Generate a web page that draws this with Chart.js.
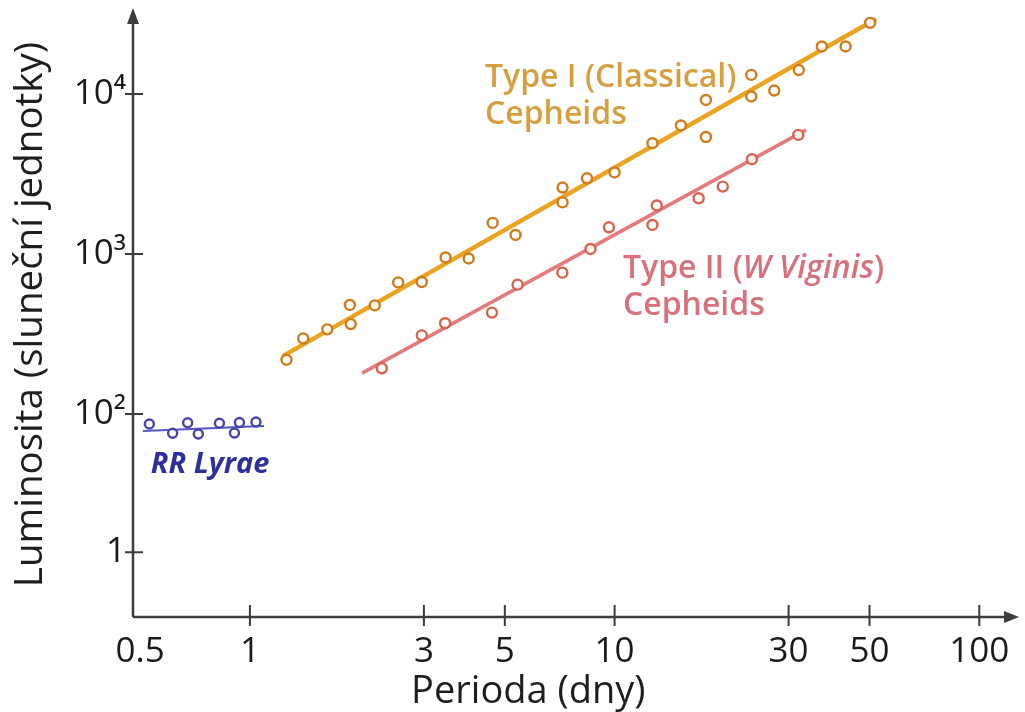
<!DOCTYPE html>
<html>
<head>
<meta charset="utf-8">
<script src="https://cdn.jsdelivr.net/npm/chart.js@4/dist/chart.umd.min.js"></script>
<style>
  html, body { margin: 0; padding: 0; background: #fff; }
</style>
</head>
<body>
<canvas id="chart" width="1025" height="712"></canvas>
<script>
// values: period in days, luminosity in solar units
const classicalPeriod = [1.26, 1.40, 1.63, 1.88, 1.89, 2.20, 2.55, 2.96, 3.44, 3.98, 4.63, 5.35,
  7.2, 7.2, 8.4, 10.0, 12.7, 15.2, 17.8, 17.8, 23.7, 23.7, 27.4, 32.0, 37.0, 43.0, 50.2];
const classicalLum = [218, 297, 338, 480, 365, 477, 664, 668, 951, 937, 1563, 1314,
  2600, 2100, 2970, 3230, 4920, 6350, 5380, 9170, 13150, 9640, 10500, 14100, 19800, 19800, 27800];
const classicalFitPeriod = [1.23, 52.1];
const classicalFitLum = [230, 29400];

const wvirPeriod = [2.30, 2.96, 3.43, 4.61, 5.42, 7.19, 8.59, 9.65, 12.7, 13.05, 17.0, 19.8, 23.8, 31.9];
const wvirLum = [193, 310, 369, 430, 643, 764, 1075, 1468, 1518, 2010, 2229, 2636, 3908, 5546];
const wvirFitPeriod = [2.03, 33.5];
const wvirFitLum = [180, 5960];

const rrPeriod = [0.530, 0.614, 0.675, 0.722, 0.825, 0.907, 0.936, 1.039];
const rrLum = [86.6, 75.8, 88.2, 75.0, 87.5, 76.1, 88.5, 89.1];
const rrFitPeriod = [0.509, 1.093];
const rrFitLum = [78.3, 84.1];

const xTickValues = [0.5, 1, 3, 5, 10, 30, 50, 100];
const xTickLabels = ["0.5", "1", "3", "5", "10", "30", "50", "100"];
// the reference axis is broken below 10^2, its "1" sits here
const yTickValues = [13.7, 100, 1000, 10000];
const yTickLabels = ["1", "10²", "10³", "10⁴"];

const xTitle = "Perioda (dny)";
const yTitle = "Luminosita (sluneční jednotky)";

function pts(xs, ys) {
  return xs.map((x, i) => ({ x: x, y: ys[i] }));
}

const ORANGE = "#eca322", ORANGE_DOT = "#cf7d1c";
const PINK = "#e57a7c", PINK_DOT = "#d8634f";
const BLUE = "#5656c8", BLUE_DOT = "#4646a6";

// labels placed by data coordinates, text segments with their style
const notes = [
  { x: 4.41, y: 11060, color: "#d6a040", weight: "600", size: 32,
    lines: [[["Type I (Classical)", ""]], [["Cepheids", ""]]] },
  { x: 10.54, y: 708, color: "#d7717d", weight: "600", size: 32,
    lines: [[["Type II (", ""], ["W Viginis", "italic "], [")", ""]], [["Cepheids", ""]]] },
  { x: 0.535, y: 42.8, color: "#2c2f9c", weight: "700", size: 29,
    lines: [[["RR Lyrae", "italic "]]] }
];

const decor = {
  id: "decor",
  afterDraw(chart) {
    const ctx = chart.ctx, a = chart.chartArea;
    const xs = chart.scales.x, ys = chart.scales.y;
    ctx.save();
    ctx.strokeStyle = "#3c3c3c";
    ctx.fillStyle = "#3c3c3c";
    ctx.lineWidth = 2.5;
    // axis lines
    ctx.beginPath();
    ctx.moveTo(a.left, a.bottom);
    ctx.lineTo(a.left, a.top + 6);
    ctx.moveTo(a.left, a.bottom);
    ctx.lineTo(a.right + 2, a.bottom);
    ctx.stroke();
    // arrow heads
    ctx.beginPath();
    ctx.moveTo(a.left, a.top - 4);
    ctx.lineTo(a.left - 6, a.top + 12);
    ctx.lineTo(a.left + 6, a.top + 12);
    ctx.closePath();
    ctx.fill();
    ctx.beginPath();
    ctx.moveTo(a.right + 9, a.bottom);
    ctx.lineTo(a.right - 6, a.bottom - 6);
    ctx.lineTo(a.right - 6, a.bottom + 6);
    ctx.closePath();
    ctx.fill();
    // tick marks crossing the axes
    ctx.lineWidth = 2;
    ctx.beginPath();
    yTickValues.forEach(v => {
      const py = ys.getPixelForValue(v);
      ctx.moveTo(a.left - 8, py);
      ctx.lineTo(a.left + 10, py);
    });
    xTickValues.slice(1).forEach(v => {
      const px = xs.getPixelForValue(v);
      ctx.moveTo(px, a.bottom - 12);
      ctx.lineTo(px, a.bottom + 9);
    });
    ctx.stroke();

    // x title
    ctx.fillStyle = "#1e1e1e";
    ctx.font = "38px 'Open Sans'";
    ctx.textAlign = "center";
    ctx.textBaseline = "alphabetic";
    ctx.fillText(xTitle, xs.getPixelForValue(5.8), 703);

    // series labels
    ctx.textAlign = "left";
    notes.forEach(n => {
      let px0 = xs.getPixelForValue(n.x);
      let py = ys.getPixelForValue(n.y);
      ctx.fillStyle = n.color;
      n.lines.forEach(line => {
        let px = px0;
        line.forEach(seg => {
          ctx.font = seg[1] + n.weight + " " + n.size + "px 'Open Sans'";
          ctx.fillText(seg[0], px, py);
          px += ctx.measureText(seg[0]).width;
        });
        py += n.size * 1.17;
      });
    });
    ctx.restore();
  }
};

function dots(label, xs, ys, stroke, r) {
  return {
    label: label, data: pts(xs, ys), showLine: false,
    pointRadius: r, pointBorderWidth: 2.4,
    pointBorderColor: stroke, pointBackgroundColor: "rgba(255,255,255,0.85)", order: 1
  };
}
function fit(label, xs, ys, color, width) {
  return {
    label: label, data: pts(xs, ys), showLine: true, pointRadius: 0,
    borderColor: color, borderWidth: width, order: 2
  };
}

new Chart("chart", {
  type: "scatter",
  data: {
    datasets: [
      dots("Type I", classicalPeriod, classicalLum, ORANGE_DOT, 5),
      dots("Type II", wvirPeriod, wvirLum, PINK_DOT, 5),
      dots("RR Lyrae", rrPeriod, rrLum, BLUE_DOT, 4.5),
      fit("Type I fit", classicalFitPeriod, classicalFitLum, ORANGE, 4.5),
      fit("Type II fit", wvirFitPeriod, wvirFitLum, PINK, 3.5),
      fit("RR Lyrae fit", rrFitPeriod, rrFitLum, BLUE, 2)
    ]
  },
  options: {
    responsive: false,
    animation: false,
    layout: { padding: { top: 12, right: 15, left: 0, bottom: 0 } },
    plugins: { legend: { display: false }, tooltip: { enabled: false } },
    scales: {
      x: {
        type: "logarithmic",
        min: 0.478, max: 121.4,
        grid: { display: false, drawTicks: false },
        border: { display: false },
        afterFit: s => { s.height = 95; },
        afterBuildTicks: s => { s.ticks = xTickValues.map(v => ({ value: v })); },
        ticks: {
          autoSkip: false, maxRotation: 0, padding: 14, color: "#1a1a1a",
          font: { family: "'Open Sans'", size: 35 },
          callback: (v, i) => xTickLabels[i]
        }
      },
      y: {
        type: "logarithmic",
        min: 5.39, max: 32500,
        grid: { display: false, drawTicks: false },
        border: { display: false },
        afterFit: s => { s.width = 133; s.paddingTop = 0; s.paddingBottom = 0; },
        afterBuildTicks: s => { s.ticks = yTickValues.map(v => ({ value: v })); },
        ticks: {
          autoSkip: false, padding: 7, color: "#1a1a1a",
          font: { family: "'Open Sans'", size: 35 },
          callback: (v, i) => yTickLabels[i]
        },
        title: {
          display: true, text: yTitle, color: "#1e1e1e",
          font: { family: "'Open Sans'", size: 38.5 },
          padding: { top: 8, bottom: 0 }
        }
      }
    }
  },
  plugins: [decor]
});
</script>
</body>
</html>
